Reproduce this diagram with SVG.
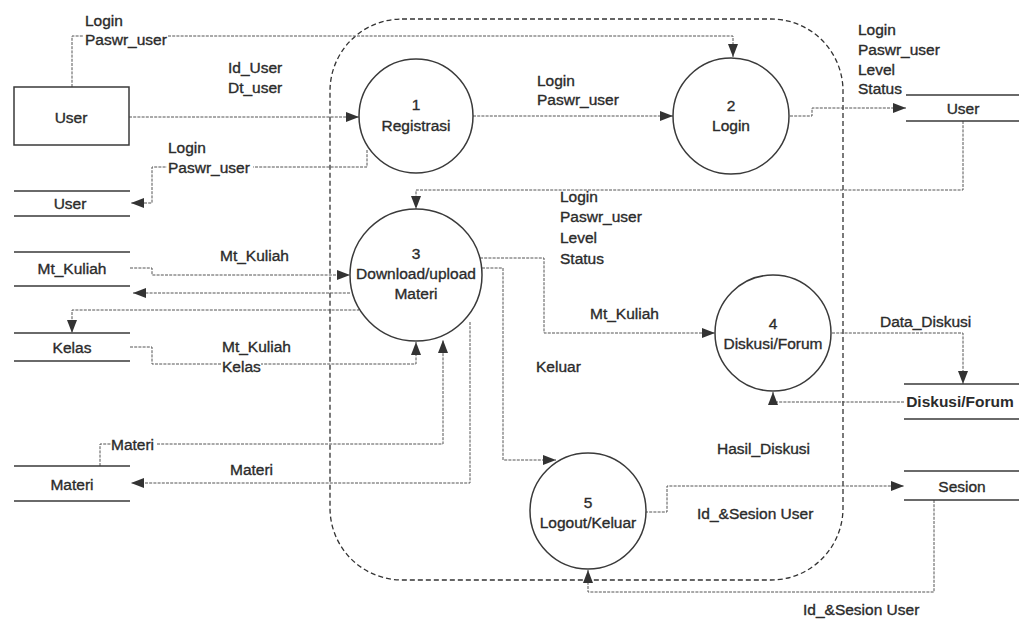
<svg xmlns="http://www.w3.org/2000/svg" width="1019" height="620" viewBox="0 0 1019 620">
  <style>
    text { font-family: "Liberation Sans", Arial, sans-serif; font-size: 15.5px; fill: #2b2b2b; stroke: #2b2b2b; stroke-width: 0.35px; }
    .mid { text-anchor: middle; }
    .bold { font-weight: bold; stroke-width: 0; }
    .proc { fill: #ffffff; stroke: #3a3a3a; stroke-width: 1.5; }
    .store { stroke: #3a3a3a; stroke-width: 1.5; fill: none; }
    .flow { fill: none; stroke: #555555; stroke-width: 1; stroke-dasharray: 3 1.2; }
    .arrow { marker-end: url(#head); }
    .bound { fill: none; stroke: #333333; stroke-width: 1.3; stroke-dasharray: 5 3; }
    .gap { fill: #ffffff; }
  </style>
  <defs>
    <marker id="head" markerUnits="userSpaceOnUse" markerWidth="14" markerHeight="10" refX="13" refY="5" orient="auto">
      <path d="M0,0 L13,5 L0,10 z" fill="#333333"/>
    </marker>
  </defs>

  <rect width="1019" height="620" fill="#ffffff"/>

  <!-- system boundary -->
  <rect class="bound" x="330" y="19" width="513" height="561" rx="72" ry="72"/>

  <!-- data flows -->
  <g id="connectors">
    <path class="flow arrow" d="M72,87 V36 H733 V57"/>
    <path class="flow arrow" d="M129,117 H359"/>
    <path class="flow arrow" d="M367,150 V167 H152 V203 H131"/>
    <path class="flow arrow" d="M473,116 H673"/>
    <path class="flow arrow" d="M790,116 H812 V108 H906"/>
    <path class="flow arrow" d="M963,121 V190 H416 V209"/>
    <path class="flow arrow" d="M130,268 H152 V275 H350"/>
    <path class="flow arrow" d="M350,293 H133"/>
    <path class="flow arrow" d="M359,305 V310 H72 V333"/>
    <path class="flow arrow" d="M130,347 H152 V364 H416 V342"/>
    <path class="flow" d="M100,466 V444 H111"/>
    <path class="flow arrow" d="M157,444 H443 V340"/>
    <path class="flow arrow" d="M470,322 V483 H131"/>
    <path class="flow arrow" d="M482,268 H503 V460 H556"/>
    <path class="flow arrow" d="M480,258 H544 V333 H715"/>
    <path class="flow arrow" d="M832,333 H963 V384"/>
    <path class="flow arrow" d="M904,402 H773 V392"/>
    <path class="flow arrow" d="M645,512 H667 V486 H904"/>
    <path class="flow arrow" d="M934,500 V592 H588 V570"/>
  </g>

  <!-- external entity -->
  <g id="user-entity">
    <rect x="14" y="87" width="115" height="58" fill="#ffffff" stroke="#3a3a3a" stroke-width="1.5"/>
    <text class="mid" x="71" y="123">User</text>
  </g>

  <!-- data stores -->
  <g id="store-user-left">
    <path class="store" d="M14,191 H130 M14,216 H130"/>
    <text class="mid" x="70" y="209">User</text>
  </g>
  <g id="store-mt-kuliah">
    <path class="store" d="M14,252 H130 M14,286 H130"/>
    <text class="mid" x="72" y="274">Mt_Kuliah</text>
  </g>
  <g id="store-kelas">
    <path class="store" d="M14,333 H130 M14,361 H130"/>
    <text class="mid" x="72" y="353">Kelas</text>
  </g>
  <g id="store-materi">
    <path class="store" d="M14,466 H130 M14,501 H130"/>
    <text class="mid" x="72" y="490">Materi</text>
  </g>
  <g id="store-user-right">
    <path class="store" d="M906,95 H1019 M906,121 H1019"/>
    <text class="mid" x="963" y="114">User</text>
  </g>
  <g id="store-diskusi">
    <path class="store" d="M904,384 H1019 M904,419 H1019"/>
    <text class="mid bold" x="960" y="407">Diskusi/Forum</text>
  </g>
  <g id="store-sesion">
    <path class="store" d="M904,471 H1019 M904,500 H1019"/>
    <text class="mid" x="962" y="492">Sesion</text>
  </g>

  <!-- processes -->
  <g id="proc-1">
    <circle class="proc" cx="416" cy="116" r="57"/>
    <text class="mid" x="416" y="110">1</text>
    <text class="mid" x="416" y="131">Registrasi</text>
  </g>
  <g id="proc-2">
    <circle class="proc" cx="731" cy="116" r="58"/>
    <text class="mid" x="731" y="111">2</text>
    <text class="mid" x="731" y="131">Login</text>
  </g>
  <g id="proc-3">
    <circle class="proc" cx="416" cy="275" r="66"/>
    <text class="mid" x="416" y="259">3</text>
    <text class="mid" x="416" y="279">Download/upload</text>
    <text class="mid" x="416" y="299">Materi</text>
  </g>
  <g id="proc-4">
    <circle class="proc" cx="773" cy="333" r="58"/>
    <text class="mid" x="773" y="329">4</text>
    <text class="mid" x="773" y="349">Diskusi/Forum</text>
  </g>
  <g id="proc-5">
    <circle class="proc" cx="588" cy="511" r="58"/>
    <text class="mid" x="588" y="508">5</text>
    <text class="mid" x="588" y="528">Logout/Keluar</text>
  </g>

  <!-- flow labels (white strips keep lines from crossing the words) -->
  <g id="labels">
    <rect class="gap" x="84" y="33" width="84" height="6"/>
    <rect class="gap" x="167" y="164" width="86" height="6"/>
    <rect class="gap" x="221" y="361" width="40" height="6"/>
    <text x="85" y="26">Login</text>
    <text x="85" y="45">Paswr_user</text>
    <text x="228" y="73">Id_User</text>
    <text x="228" y="93">Dt_user</text>
    <text x="168" y="153">Login</text>
    <text x="168" y="173">Paswr_user</text>
    <text x="537" y="86">Login</text>
    <text x="537" y="105">Paswr_user</text>
    <text x="858" y="35">Login</text>
    <text x="858" y="55">Paswr_user</text>
    <text x="858" y="75">Level</text>
    <text x="858" y="94">Status</text>
    <text x="560" y="202">Login</text>
    <text x="560" y="222">Paswr_user</text>
    <text x="560" y="243">Level</text>
    <text x="560" y="264">Status</text>
    <text x="220" y="261">Mt_Kuliah</text>
    <text x="222" y="352">Mt_Kuliah</text>
    <text x="222" y="372">Kelas</text>
    <text x="111" y="450">Materi</text>
    <text x="230" y="475">Materi</text>
    <text x="590" y="319">Mt_Kuliah</text>
    <text x="536" y="372">Keluar</text>
    <text x="880" y="327">Data_Diskusi</text>
    <text x="717" y="454">Hasil_Diskusi</text>
    <text x="697" y="519">Id_&amp;Sesion User</text>
    <text x="803" y="615">Id_&amp;Sesion User</text>
  </g>
</svg>
